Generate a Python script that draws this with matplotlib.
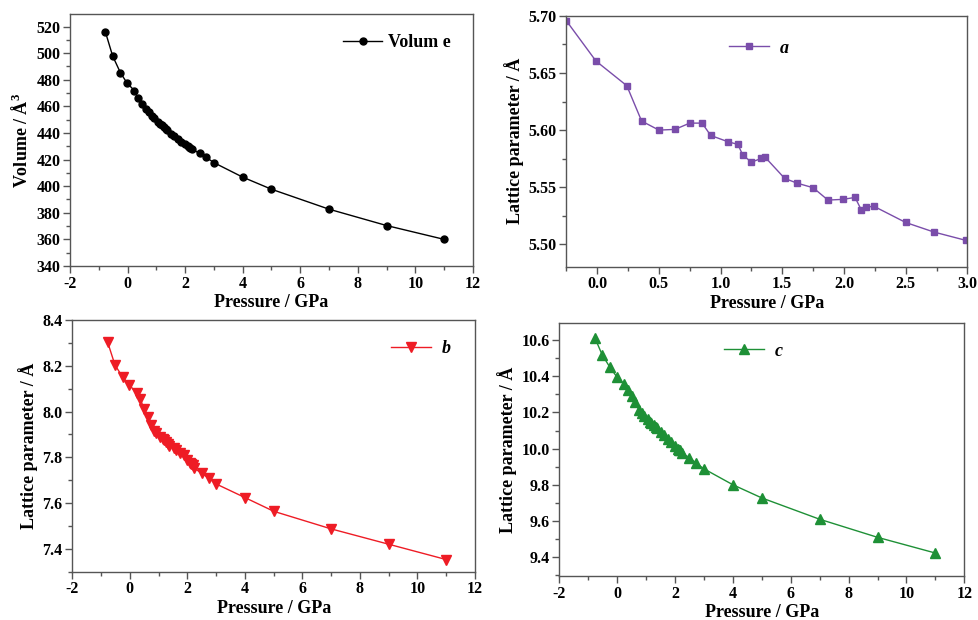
import matplotlib
matplotlib.use("Agg")
import matplotlib.pyplot as plt
from matplotlib.ticker import MultipleLocator, AutoMinorLocator

# ---------------- data ----------------
pressure = [-0.77, -0.52, -0.25, -0.02, 0.24, 0.36, 0.50, 0.63, 0.75, 0.85, 0.92,
            1.06, 1.14, 1.18, 1.26, 1.33, 1.36, 1.52, 1.62, 1.75, 1.87, 1.99,
            2.09, 2.14, 2.18, 2.24, 2.50, 2.74, 2.99, 4.0, 5.0, 7.0, 9.0, 11.0]

volume = [516.0, 498.0, 485.4, 477.6, 471.8, 466.0, 461.5, 458.0, 455.5, 453.0, 451.5,
          448.5, 447.0, 446.0, 444.5, 443.0, 442.5, 439.5, 437.5, 435.5, 433.5, 432.0,
          430.5, 429.5, 429.0, 428.0, 424.6, 421.6, 417.8, 406.8, 397.7, 382.7, 370.4, 360.0]

b_param = [8.302, 8.204, 8.150, 8.116, 8.080, 8.054, 8.010, 7.978, 7.940, 7.915, 7.905,
           7.890, 7.882, 7.875, 7.868, 7.860, 7.850, 7.840, 7.830, 7.820, 7.810, 7.790,
           7.775, 7.770, 7.765, 7.752, 7.730, 7.709, 7.684, 7.624, 7.564, 7.487, 7.420, 7.353]

c_param = [10.613, 10.520, 10.450, 10.399, 10.356, 10.325, 10.292, 10.258, 10.215, 10.195, 10.180,
           10.165, 10.150, 10.142, 10.132, 10.120, 10.115, 10.090, 10.075, 10.055, 10.035, 10.015,
           10.000, 9.995, 9.990, 9.975, 9.950, 9.919, 9.889, 9.800, 9.727, 9.609, 9.509, 9.422]

pressure_a = [-0.25, -0.01, 0.24, 0.36, 0.50, 0.63, 0.75, 0.85, 0.92, 1.06, 1.14, 1.18,
              1.25, 1.33, 1.36, 1.52, 1.62, 1.75, 1.87, 1.99, 2.09, 2.14, 2.18, 2.24,
              2.50, 2.73, 2.99]
a_param = [5.6956, 5.6604, 5.6388, 5.6079, 5.6000, 5.6006, 5.6061, 5.6061, 5.5953, 5.5898,
           5.5875, 5.5781, 5.5720, 5.5752, 5.5764, 5.5577, 5.5536, 5.5496, 5.5388, 5.5394,
           5.5411, 5.5303, 5.5324, 5.5335, 5.5192, 5.5108, 5.5035]

# ---------------- style ----------------
SERIF = ["Liberation Serif", "DejaVu Serif"]
plt.rcParams["font.family"] = SERIF
plt.rcParams["font.weight"] = "bold"
plt.rcParams["axes.unicode_minus"] = False
plt.rcParams["mathtext.fontset"] = "custom"
plt.rcParams["mathtext.rm"] = "Liberation Serif:bold"

fig = plt.figure(figsize=(9.79, 6.2), dpi=100)

frame_col = "#555555"

def style_axes(ax, xmaj, ymaj, xlim, ylim, ylabel, yfmt=None):
    ax.set_xlim(*xlim)
    ax.set_ylim(*ylim)
    ax.xaxis.set_major_locator(MultipleLocator(xmaj))
    ax.yaxis.set_major_locator(MultipleLocator(ymaj))
    ax.xaxis.set_minor_locator(AutoMinorLocator(2))
    ax.yaxis.set_minor_locator(AutoMinorLocator(2))
    ax.tick_params(which="both", direction="out", top=False, right=False,
                   color=frame_col, width=1.0)
    ax.tick_params(which="major", length=5, labelsize=11.5, pad=2)
    ax.tick_params(which="minor", length=3)
    for sp in ax.spines.values():
        sp.set_color(frame_col)
        sp.set_linewidth(1.0)
    for lab in ax.get_xticklabels() + ax.get_yticklabels():
        lab.set_fontweight("bold")
    ax.set_xlabel("Pressure / GPa", fontsize=13, fontweight="bold", labelpad=2)
    ax.set_ylabel(ylabel, fontsize=13, fontweight="bold", labelpad=3)
    if yfmt:
        ax.yaxis.set_major_formatter(plt.FormatStrFormatter(yfmt))

# Panel 1: Volume
ax1 = fig.add_axes([0.0715, 0.571, 0.4116, 0.4065])
ax1.plot(pressure, volume, "-o", color="black", lw=1.0, ms=5, label="Volum e")
style_axes(ax1, 2, 20, (-2, 12), (340, 529.5), "Volume / Å$^{3}$")
leg = ax1.legend(loc="upper right", frameon=False, fontsize=13, handlelength=2.2,
                 handletextpad=0.3, bbox_to_anchor=(0.985, 0.985))

# Panel 2: a
ax2 = fig.add_axes([0.5785, 0.5698, 0.4096, 0.4048])
ax2.plot(pressure_a, a_param, "-s", color="#7A4DAA", lw=1.0, ms=5, label="a")
style_axes(ax2, 0.5, 0.05, (-0.25, 3.0), (5.4805, 5.70), "Lattice parameter / Å", "%.2f")
ax2.xaxis.set_major_formatter(plt.FormatStrFormatter("%.1f"))
leg2 = ax2.legend(loc="upper center", frameon=False, fontsize=13, handlelength=2.2,
                  handletextpad=0.6, bbox_to_anchor=(0.48, 0.97))
for t in leg2.get_texts():
    t.set_fontstyle("italic")

# Panel 3: b
ax3 = fig.add_axes([0.0739, 0.0779, 0.4113, 0.406])
ax3.plot(pressure, b_param, "-v", color="#EE1C25", lw=1.0, ms=6.5, label="b")
style_axes(ax3, 2, 0.2, (-2, 12), (7.30, 8.4), "Lattice parameter / Å", "%.1f")
leg3 = ax3.legend(loc="upper right", frameon=False, fontsize=13, handlelength=2.2,
                  handletextpad=0.6, bbox_to_anchor=(0.98, 0.985))
for t in leg3.get_texts():
    t.set_fontstyle("italic")

# Panel 4: c
ax4 = fig.add_axes([0.5713, 0.071, 0.4137, 0.4085])
ax4.plot(pressure, c_param, "-^", color="#1E9036", lw=1.0, ms=6.5, label="c")
style_axes(ax4, 2, 0.2, (-2, 12), (9.295, 10.697), "Lattice parameter / Å", "%.1f")
leg4 = ax4.legend(loc="upper center", frameon=False, fontsize=13, handlelength=2.2,
                  handletextpad=0.6, bbox_to_anchor=(0.48, 0.985))
for t in leg4.get_texts():
    t.set_fontstyle("italic")

fig.savefig("out.png", dpi=100)
